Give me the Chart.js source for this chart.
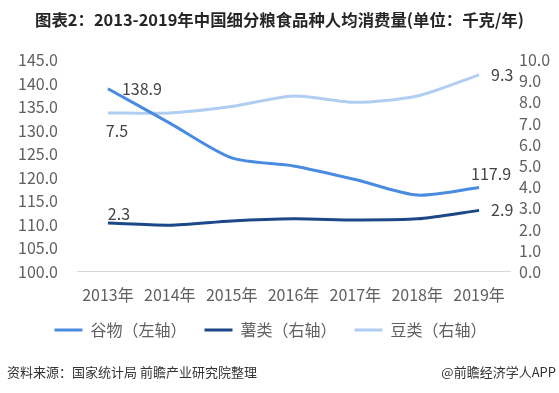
<!DOCTYPE html>
<html>
<head>
<meta charset="utf-8">
<script src="https://cdn.jsdelivr.net/npm/chart.js@4"></script>
<style>
    body{margin:0;background:#fff;}
    .wrap{position:relative;width:559px;height:393px;overflow:hidden;font-family:"Noto Sans CJK SC","Noto Sans",sans-serif;}
    .title{position:absolute;left:0;top:7px;width:559px;text-align:center;font-size:16.4px;font-weight:bold;color:#262626;}
    .src{position:absolute;left:7px;top:362px;font-size:13px;color:#333;}
    .app{position:absolute;right:3px;top:362px;font-size:13px;color:#333;}
    canvas{position:absolute;left:0;top:0;}
</style>
</head>
<body>
<div class="wrap">
    <canvas id="chart" width="559" height="393"></canvas>
    <div class="title">图表2：2013-2019年中国细分粮食品种人均消费量(单位：千克/年)</div>
    <div class="src">资料来源：国家统计局 前瞻产业研究院整理</div>
    <div class="app">@前瞻经济学人APP</div>
</div>
<script>
let years = ['2013年','2014年','2015年','2016年','2017年','2018年','2019年'];
let grain = [138.9, 131.6, 124.2, 122.5, 119.6, 116.3, 117.9];
let tuber = [2.3, 2.2, 2.4, 2.5, 2.45, 2.5, 2.9];
let bean = [7.5, 7.5, 7.8, 8.3, 8.0, 8.3, 9.3];

(function(){

    const ctx = document.getElementById('chart').getContext('2d');
    const font = '"Noto Sans CJK SC","Noto Sans",sans-serif';
    const textColor = '#606060';

    // labels only at first and last point
    let endLabels = {
        id: 'endLabels',
        afterDatasetsDraw: function(chart){
            let c = chart.ctx;
            c.save();
            c.font = '16px ' + font;
            c.fillStyle = '#444';
            c.textBaseline = 'middle';
            chart.data.datasets.forEach(function(ds, i){
                let meta = chart.getDatasetMeta(i);
                ds.labelPos.forEach(function(p){
                    let idx = p.first ? 0 : ds.data.length - 1;
                    let pt = meta.data[idx];
                    c.textAlign = p.align;
                    c.fillText(ds.data[idx].toFixed(1), pt.x + p.dx, pt.y + p.dy);
                });
            });
            c.restore();
        }
    };

    // nudge legend a bit to the left
    let legendShift = {
        id: 'legendShift',
        afterLayout: function(chart){
            chart.legend.left -= 9;
            chart.legend.right -= 9;
        }
    };

    const config = {
        type: 'line',
        data: {
            labels: years,
            datasets: [
                {
                    label: '谷物（左轴）',
                    data: grain,
                    yAxisID: 'y',
                    borderColor: '#4a8be2',
                    backgroundColor: '#4a8be2',
                    borderWidth: 3,
                    labelPos: [{first: true, dx: 14, dy: 0, align: 'left'}, {first: false, dx: 12, dy: -14, align: 'center'}]
                },
                {
                    label: '薯类（右轴）',
                    data: tuber,
                    yAxisID: 'y1',
                    borderColor: '#1c4887',
                    backgroundColor: '#1c4887',
                    borderWidth: 3,
                    labelPos: [{first: true, dx: 11, dy: -9, align: 'center'}, {first: false, dx: 12, dy: 0, align: 'left'}]
                },
                {
                    label: '豆类（右轴）',
                    data: bean,
                    yAxisID: 'y1',
                    borderColor: '#b0cdf2',
                    backgroundColor: '#b0cdf2',
                    borderWidth: 3,
                    labelPos: [{first: true, dx: 9, dy: 18, align: 'center'}, {first: false, dx: 12, dy: 0, align: 'left'}]
                }
            ]
        },
        options: {
            responsive: false,
            animation: false,
            layout: {
                padding: {top: 60, left: 0, right: 0, bottom: 45}
            },
            elements: {
                line: {tension: 0.25, fill: false},
                point: {radius: 0, hoverRadius: 0}
            },
            scales: {
                x: {
                    offset: true,
                    grid: {display: false},
                    border: {color: '#d9d9d9'},
                    afterFit: function(s){ s.height -= 7; },
                    ticks: {color: textColor, font: {family: font, size: 16}, padding: 6, maxRotation: 0, autoSkip: false}
                },
                y: {
                    position: 'left',
                    min: 100,
                    max: 145,
                    grid: {display: false, drawTicks: false},
                    border: {display: false},
                    afterFit: function(s){ s.width = 77; },
                    ticks: {
                        stepSize: 5,
                        autoSkip: false,
                        padding: 19,
                        color: textColor,
                        font: {family: font, size: 16},
                        callback: function(v){ return v.toFixed(1); }
                    }
                },
                y1: {
                    position: 'right',
                    min: 0,
                    max: 10,
                    grid: {display: false, drawTicks: false},
                    border: {display: false},
                    afterFit: function(s){ s.width = 49; },
                    ticks: {
                        stepSize: 1,
                        autoSkip: false,
                        padding: 9,
                        color: textColor,
                        font: {family: font, size: 16},
                        callback: function(v){ return v.toFixed(1); }
                    }
                }
            },
            plugins: {
                title: {display: false},
                tooltip: {enabled: false},
                legend: {
                    position: 'bottom',
                    labels: {
                        usePointStyle: true,
                        pointStyle: 'line',
                        pointStyleWidth: 28,
                        padding: 18,
                        color: textColor,
                        font: {family: font, size: 16}
                    }
                }
            }
        },
        plugins: [endLabels, legendShift]
    };

    let myChart = new Chart(ctx, config);

})();
</script>
</body>
</html>
